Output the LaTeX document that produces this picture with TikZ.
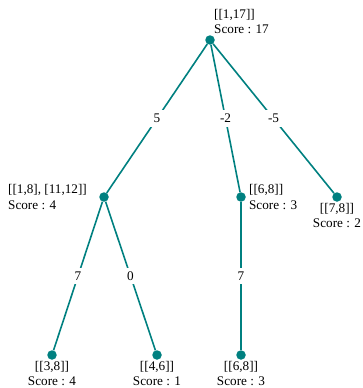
\documentclass[tikz,border=0pt]{standalone}
\usepackage{fontspec}
\setmainfont{Liberation Serif}
\usetikzlibrary{positioning}
\definecolor{treeteal}{RGB}{0,128,128}

\begin{document}
\begin{tikzpicture}[x=1pt,y=-1pt,
  dot/.style={circle,fill=treeteal,inner sep=0pt,minimum size=9.5pt},
  branch/.style={draw=treeteal,line width=1.6pt},
  info/.style={inner sep=0pt,font=\fontsize{13.2}{15.5}\selectfont},
  cost/.style={fill=white,inner sep=4pt,font=\fontsize{13.2}{15.5}\selectfont}]
  \useasboundingbox (0,0) rectangle (362,388);
  % dots of the tree
  \node[dot] (root) at (210,40) {};
  \node[dot] (a) at (104,197) {};
  \node[dot] (b) at (241,197) {};
  \node[dot] (c) at (337,197) {};
  \node[dot] (aa) at (52,355) {};
  \node[dot] (ab) at (157,355) {};
  \node[dot] (ba) at (241,355) {};
  % branches with their costs
  \draw[branch] (root)--(a) node[midway,cost] {5};
  \draw[branch] (root)--(b) node[midway,cost] {-2};
  \draw[branch] (root)--(c) node[midway,cost] {-5};
  \draw[branch] (a)--(aa) node[midway,cost] {7};
  \draw[branch] (a)--(ab) node[midway,cost] {0};
  \draw[branch] (b)--(ba) node[midway,cost] {7};
  % intervals and scores
  \node[info,align=left,anchor=south west] (rootinfo) at (214,34) {[[1,17]]\\Score : 17};
  \node[info,align=left,left=12pt of a] (ainfo) {[[1,8], [11,12]]\\Score : 4};
  \node[info,align=left,right=3pt of b] (binfo) {[[6,8]]\\Score : 3};
  \node[info,align=center,below=1pt of c] (cinfo) {[[7,8]]\\Score : 2};
  \node[info,align=center,below=1pt of aa] (aainfo) {[[3,8]]\\Score : 4};
  \node[info,align=center,below=1pt of ab] (abinfo) {[[4,6]]\\Score : 1};
  \node[info,align=center,below=1pt of ba] (bainfo) {[[6,8]]\\Score : 3};
\end{tikzpicture}
\end{document}
